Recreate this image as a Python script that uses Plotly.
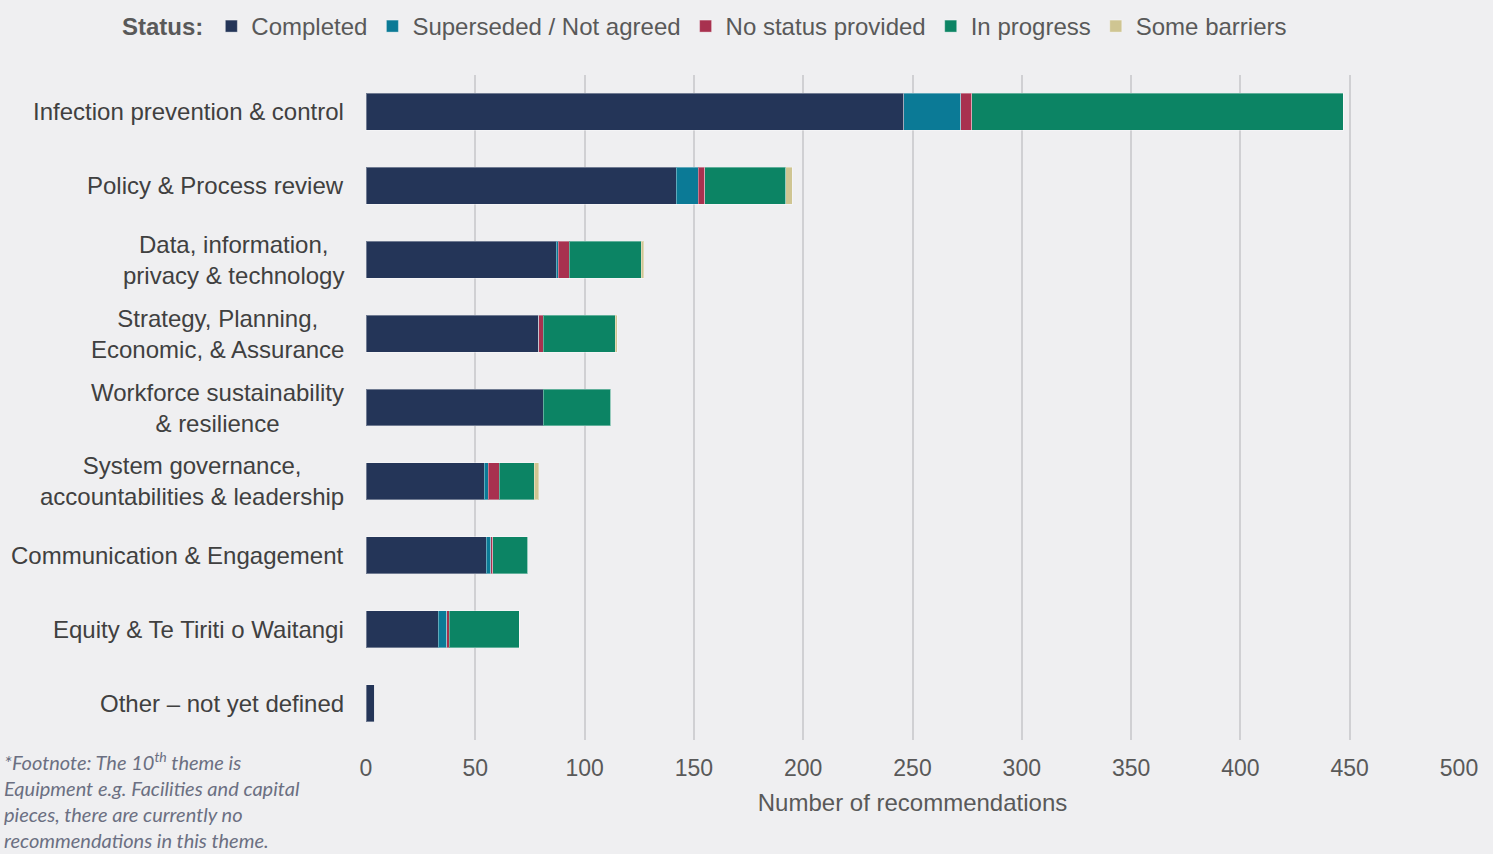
import plotly.graph_objects as go

categories = [
    "Infection prevention & control",
    "Policy & Process review",
    "Data, information,<br>privacy & technology",
    "Strategy, Planning,<br>Economic, & Assurance",
    "Workforce sustainability<br>& resilience",
    "System governance,<br>accountabilities & leadership",
    "Communication & Engagement",
    "Equity & Te Tiriti o Waitangi",
    "Other \u2013 not yet defined",
]
completed = [246, 142, 87, 79, 81, 54, 55, 33, 4]
superseded = [26, 10, 1, 0, 0, 2, 2, 4, 0]
no_status = [5, 3, 5, 2, 0, 5, 1, 1, 0]
in_progress = [170, 37, 33, 33, 31, 16, 16, 32, 0]
some_barriers = [0, 3, 1, 1, 0, 2, 0, 0, 0]

series = [
    ("Completed", completed, "#243558"),
    ("Superseded / Not agreed", superseded, "#0b7a96"),
    ("No status provided", no_status, "#a8314f"),
    ("In progress", in_progress, "#0c8464"),
    ("Some barriers", some_barriers, "#cfc592"),
]

x_ticks = [0, 50, 100, 150, 200, 250, 300, 350, 400, 450, 500]

fig = go.Figure()
for name, vals, col in series:
    fig.add_trace(go.Bar(
        y=categories, x=vals, name=name, orientation="h",
        marker=dict(color=col, line=dict(color="rgba(255,255,255,0.35)", width=1)),
        width=0.5,
    ))

for cat in categories:
    fig.add_annotation(
        x=0, y=cat, xref="x", yref="y", text=cat, showarrow=False,
        xanchor="right", yanchor="middle", align="center", xshift=-20,
        font=dict(family="Liberation Sans, Arial", size=24, color="#404040"),
    )

fig.add_annotation(
    xref="paper", yref="paper", x=-364/1093, y=-(746 - 740)/665,
    showarrow=False,
    text="*Footnote: The 10<sup>th</sup> theme is<br>Equipment e.g. Facilities and capital<br>pieces, there are currently no<br>recommendations in this theme.",
    xanchor="left", yanchor="top", align="left",
    font=dict(family="Lato, Open Sans", size=20, color="#6b6f82", style="italic"),
)

fig.update_layout(
    width=1493, height=854,
    barmode="stack",
    paper_bgcolor="#efeff1", plot_bgcolor="#efeff1",
    margin=dict(l=366, r=34, t=75, b=114),
    font=dict(family="Liberation Sans, Arial", size=24, color="#595959"),
    bargap=0.5,
    showlegend=True,
    legend=dict(
        orientation="h", xref="container", yref="container",
        x=120/1493, y=1 - 4/854, xanchor="left", yanchor="top",
        title=dict(text="<b>Status:</b>", font=dict(size=24, color="#595959"), side="left"),
        font=dict(size=24, color="#595959"),
        bgcolor="rgba(0,0,0,0)", traceorder="normal",
    ),
    xaxis=dict(
        range=[0, 500], tickvals=x_ticks, showgrid=True,
        gridcolor="#d0d0d3", gridwidth=2, zeroline=False,
        showline=False, ticks="", ticklabelstandoff=12,
        tickfont=dict(size=23, color="#595959"),
        title=dict(text="Number of recommendations", font=dict(size=24, color="#595959"), standoff=14),
    ),
    yaxis=dict(
        categoryorder="array", categoryarray=categories,
        autorange="reversed", showticklabels=False, showgrid=False,
        zeroline=False, showline=False, ticks="",
    ),
)

fig.write_html(
    "out.html",
    config={"displayModeBar": False},
    post_script="document.body.style.margin='0';document.body.style.overflow='hidden';",
)
